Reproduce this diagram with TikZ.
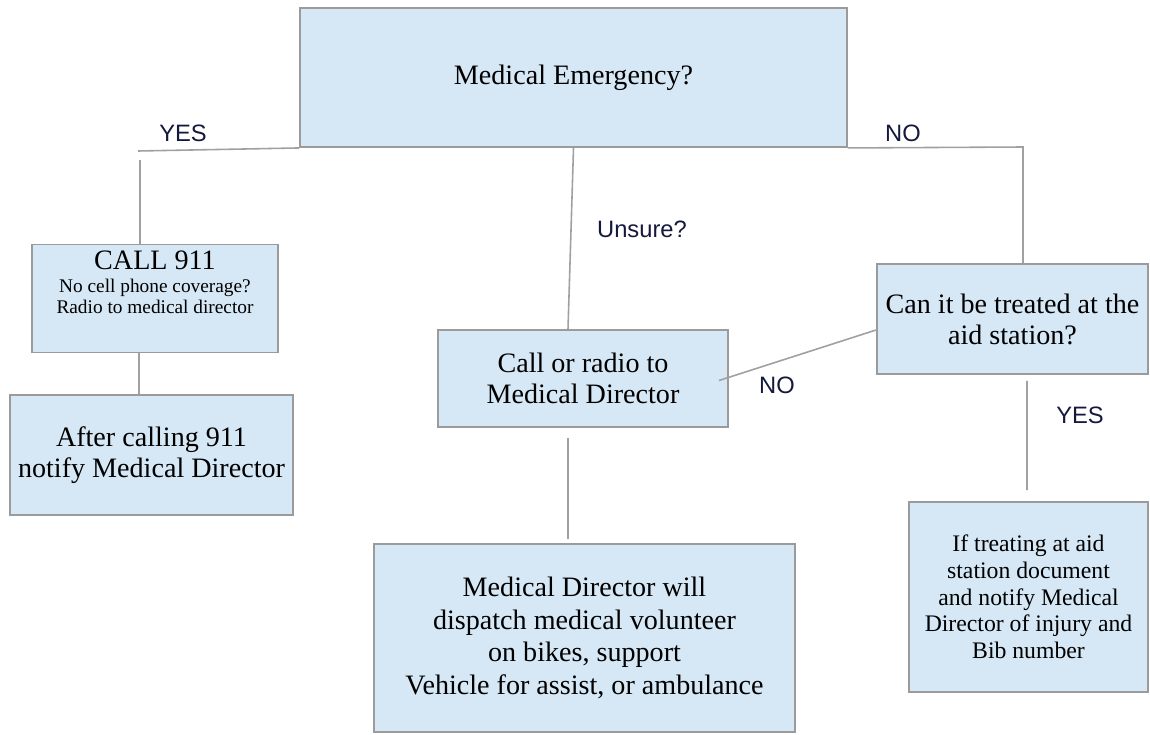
\documentclass[tikz,border=0pt]{standalone}
\usepackage{fontspec}
\setmainfont{Liberation Serif}
\setsansfont{Liberation Sans}
\usetikzlibrary{calc}

\definecolor{boxfill}{RGB}{214,232,245}
\definecolor{boxline}{RGB}{155,155,155}
\definecolor{linkgray}{RGB}{160,160,160}
\definecolor{labelblue}{RGB}{20,24,60}

\begin{document}
\begin{tikzpicture}[x=0.02cm, y=-0.02cm,
  box/.style={draw=boxline, fill=boxfill, line width=1.1pt, align=center,
    inner sep=0pt, font=\fontsize{16}{17.6}\selectfont},
  link/.style={draw=linkgray, line width=0.9pt},
  answer/.style={font=\sffamily\fontsize{13.5}{16}\selectfont, text=labelblue}]

\useasboundingbox (0,0) rectangle (1150,734);

% boxes
\node[box, minimum width=10.94cm, minimum height=2.78cm] (emerg) at (573.5,77.5) {Medical Emergency?};
\node[box, minimum width=4.92cm, minimum height=2.16cm] (call) at (155,298.5)
  {\parbox[c][1.9cm][t]{4.7cm}{\centering CALL 911\par\vspace{1pt}
   \fontsize{11}{12}\selectfont No cell phone coverage?\\ Radio to medical director}};
\node[box, minimum width=5.66cm, minimum height=2.4cm] (after) at (151.5,455) {After calling 911\\ notify Medical Director};
\node[box, minimum width=5.8cm, minimum height=1.94cm] (radio) at (583,378.5) {Call or radio to\\ Medical Director};
\node[box, minimum width=8.42cm, minimum height=3.76cm, font=\fontsize{16}{18.6}\selectfont] (dispatch) at (584.5,638)
  {Medical Director will\\ dispatch medical volunteer\\ on bikes, support\\ Vehicle for assist, or ambulance};
\node[box, minimum width=5.42cm, minimum height=2.2cm] (treat) at (1012.5,319) {Can it be treated at the\\ aid station?};
\node[box, minimum width=4.78cm, minimum height=3.8cm, font=\fontsize{13.5}{15.2}\selectfont] (bib) at (1028.5,597)
  {If treating at aid\\ station document\\ and notify Medical\\ Director of injury and\\ Bib number};

% branch points
\coordinate (yesEnd) at (138,151);
\coordinate (yesDrop) at (140,160);
\coordinate (noEnd) at (1023,147);
\coordinate (callOut) at ($(call.south)+(-16,0)$);
\coordinate (radioOut) at ($(radio.south)+(-15,10)$);
\coordinate (treatOut) at ($(treat.south)+(14.5,6)$);
\coordinate (bibIn) at (1027,490);

% connectors
\draw[link] (emerg.south west) -- (yesEnd);
\draw[link] (yesDrop) -- (yesDrop |- call.north);
\draw[link] (emerg.south east) -- (noEnd) -- (noEnd |- treat.north);
\draw[link] (emerg.south) -- ($(radio.north)+(-15,0)$);
\draw[link] (callOut) -- (callOut |- after.north);
\draw[link] (radioOut) -- ($(radioOut |- dispatch.north)+(0,-4)$);
\draw[link] ($(treat.west)+(0,11)$) -- ($(radio.east)+(-10,2)$);
\draw[link] (treatOut) -- (bibIn);

% answers
\node[answer] (yesA) at (183,133) {YES};
\node[answer] (noA) at (903,133) {NO};
\node[answer] (unsure) at (642,229) {Unsure?};
\node[answer] (noB) at (777,385) {NO};
\node[answer] (yesB) at (1080,415) {YES};

\end{tikzpicture}
\end{document}
